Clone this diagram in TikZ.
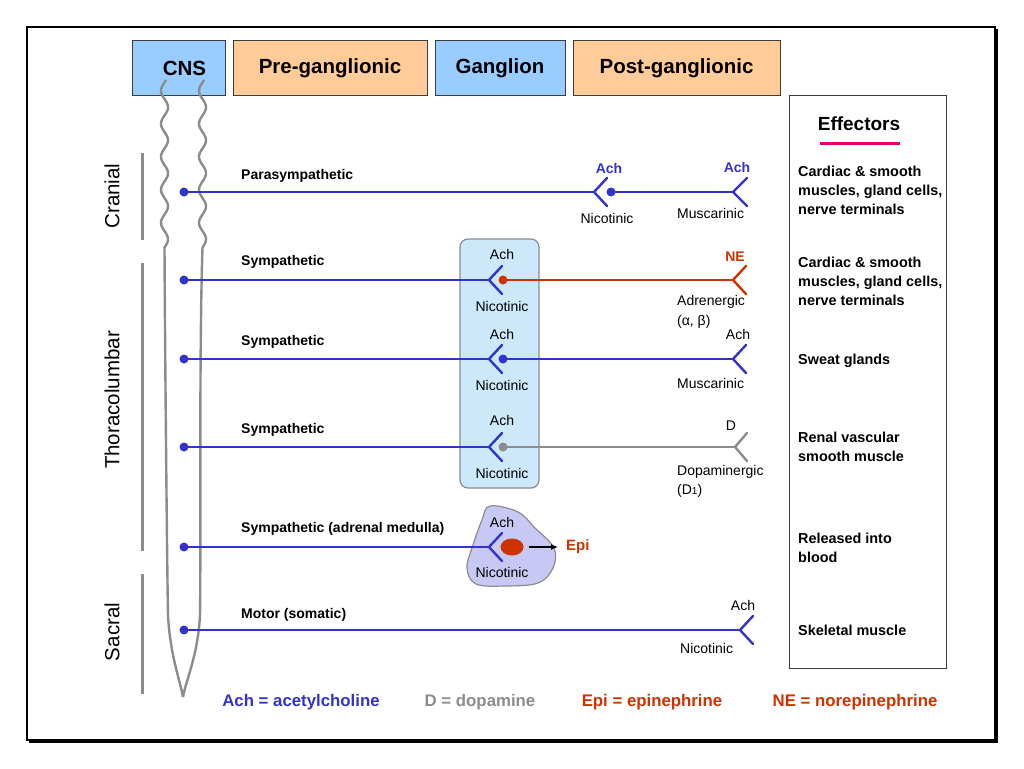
\documentclass[tikz,border=0pt]{standalone}
\usepackage{fontspec}
\setmainfont{Liberation Sans}
\usetikzlibrary{calc,arrows.meta,shapes.geometric}
\definecolor{nblue}{RGB}{51,51,204}
\definecolor{nred}{RGB}{204,51,0}
\definecolor{ngray}{RGB}{140,140,140}
\definecolor{hblue}{RGB}{153,204,255}
\definecolor{horange}{RGB}{255,204,153}
\definecolor{gbox}{RGB}{204,232,250}
\definecolor{gboxb}{RGB}{130,140,150}
\definecolor{blobc}{RGB}{200,200,245}
\definecolor{ulpink}{RGB}{230,0,110}
\definecolor{hdrb}{RGB}{60,60,60}
\newcommand\fsz[2]{\fontsize{#1}{#2}\selectfont}
\newcommand\forkat[3]{\draw[#2,line width=2.4pt,line cap=round] ($(#1)+(#3,-14)$) -- (#1) -- ($(#1)+(#3,14)$);}
\begin{document}
\begin{tikzpicture}[x=1pt,y=-1pt,
  hdr/.style={draw=hdrb, line width=1pt, minimum height=54pt, inner sep=0pt, font=\fsz{20.5}{23}\bfseries},
  rowlab/.style={anchor=west, inner sep=0pt, font=\fsz{14}{16}\bfseries},
  lab/.style={inner sep=0pt, font=\fsz{14}{16}},
  blab/.style={inner sep=0pt, font=\fsz{14}{16}\bfseries},
  efftxt/.style={anchor=west, align=left, inner sep=0pt, font=\fsz{14.4}{19}\bfseries},
  leg/.style={inner sep=0pt, font=\fsz{16.8}{18}\bfseries},
  vlab/.style={rotate=90, inner sep=0pt, font=\fsz{20.5}{22}},
  nerve/.style={line width=2.4pt},
  cord/.style={draw=ngray, line width=2.4pt},
  brk/.style={draw=ngray, line width=3pt}]
\useasboundingbox (0,0) rectangle (1024,768);
\fill[white] (0,0) rectangle (1024,768);
% frame
\draw[line width=1.5pt] (27,27) rectangle (995,740);
\draw[line width=2.5pt] (996.5,29) -- (996.5,741.5) -- (29,741.5);

% header
\node[hdr, fill=hblue, minimum width=93pt] (cns) at (178.5,68) {\hspace{12pt}CNS};
\node[hdr, fill=horange, minimum width=194pt] (pre) at (330,68) {Pre-ganglionic};
\node[hdr, fill=hblue, minimum width=130pt] (gan) at (500,68) {Ganglion};
\node[hdr, fill=horange, minimum width=207pt] (post) at (676.5,68) {Post-ganglionic};

% spinal cord
\draw[cord] plot[domain=80:247.5, samples=120, smooth] ({164.5+3.5*sin(\x*10.909)}, \x)
  .. controls (165,350) and (167,560) .. (168,615) .. controls (170,655) and (180,680) .. (183,697);
\draw[cord] plot[domain=80:247.5, samples=120, smooth] ({202.5+3.5*sin(\x*10.909)}, \x)
  .. controls (199,350) and (201,560) .. (200,615) .. controls (198,655) and (186,680) .. (183,697);

% region brackets
\draw[brk] (142,153) -- (142,240);
\draw[brk] (142,263) -- (142,551);
\draw[brk] (142,574) -- (142,694);
\node[vlab] (cran) at (112,196) {Cranial};
\node[vlab] (thor) at (112,400) {Thoracolumbar};
\node[vlab] (sacr) at (112,632) {Sacral};

% effectors box
\node[draw=hdrb, line width=1pt, minimum width=157pt, minimum height=573pt, inner sep=0pt] (eff) at (867.5,381.5) {};
\node[inner sep=0pt, font=\fsz{19}{21}\bfseries] (efft) at (859,124) {Effectors};
\draw[ulpink, line width=3pt] (820,143) -- (900,143);
\node[efftxt] (e1) at (798,190) {Cardiac \& smooth\\muscles, gland cells,\\nerve terminals};
\node[efftxt] (e2) at (798,281) {Cardiac \& smooth\\muscles, gland cells,\\nerve terminals};
\node[efftxt] (e3) at (798,361) {Sweat glands};
\node[efftxt] (e4) at (798,446.5) {Renal vascular\\smooth muscle};
\node[efftxt] (e5) at (798,548) {Released into\\blood};
\node[efftxt] (e6) at (798,630) {Skeletal muscle};

% ganglion box and adrenal cell
\node[draw=gboxb, fill=gbox, rounded corners=8pt, line width=1.2pt, minimum width=79pt, minimum height=249pt, inner sep=0pt] (gbox) at (499.5,363.5) {};
\draw[fill=blobc, draw=ngray, line width=1.2pt] plot[smooth cycle, tension=0.6] coordinates {(490,506) (518,512) (535,528) (554,548) (553,568) (538,583) (505,586) (476,584) (467,568) (473,545) (482,520)};

% coordinates
\coordinate (s1) at (184,192); \coordinate (g1) at (594,192); \coordinate (d1) at (611,192); \coordinate (t1) at (733,192);
\coordinate (s2) at (184,280); \coordinate (g2) at (489,280); \coordinate (d2) at (503,280); \coordinate (t2) at (733,280);
\coordinate (s3) at (184,359); \coordinate (g3) at (489,359); \coordinate (d3) at (503,359); \coordinate (t3) at (733,359);
\coordinate (s4) at (184,447); \coordinate (g4) at (489,447); \coordinate (d4) at (503,447); \coordinate (t4) at (735,447);
\coordinate (s5) at (184,547); \coordinate (g5) at (489,547);
\coordinate (s6) at (184,630); \coordinate (t6) at (740,630);

% row 1 parasympathetic
\draw[nerve, nblue] (s1) -- (g1);
\draw[nerve, nblue] (d1) -- (t1);
\forkat{g1}{nblue}{13}
\forkat{t1}{nblue}{14}
\fill[nblue] (s1) circle (4.5pt);
\fill[nblue] (d1) circle (4.5pt);
\node[rowlab] (r1) at (241,176) {Parasympathetic};
\node[blab, text=nblue] (a1) at (609,168) {Ach};
\node[blab, text=nblue] (a1b) at (737,167) {Ach};
\node[lab] (n1) at (607,218) {Nicotinic};
\node[lab, anchor=west] (m1) at (677,213) {Muscarinic};

% row 2 sympathetic NE
\draw[nerve, nblue] (s2) -- (g2);
\draw[nerve, nred] (d2) -- (t2);
\forkat{g2}{nblue}{13}
\forkat{t2}{nred}{13}
\fill[nblue] (s2) circle (4.5pt);
\fill[nred] (d2) circle (4.5pt);
\node[rowlab] (r2) at (241,262) {Sympathetic};
\node[lab] (a2) at (502,254) {Ach};
\node[lab] (n2) at (502,306) {Nicotinic};
\node[blab, text=nred] (ne2) at (735,257) {NE};
\node[lab, anchor=west] (m2) at (677,302) {Adrenergic};
\node[lab, anchor=west] (m2b) at (677,322) {(α, β)};

% row 3 sympathetic sweat
\draw[nerve, nblue] (s3) -- (g3);
\draw[nerve, nblue] (d3) -- (t3);
\forkat{g3}{nblue}{13}
\forkat{t3}{nblue}{13}
\fill[nblue] (s3) circle (4.5pt);
\fill[nblue] (d3) circle (4.5pt);
\node[rowlab] (r3) at (241,342) {Sympathetic};
\node[lab] (a3) at (502,334) {Ach};
\node[lab] (n3) at (502,385) {Nicotinic};
\node[lab] (a3b) at (738,334) {Ach};
\node[lab, anchor=west] (m3) at (677,383) {Muscarinic};

% row 4 sympathetic dopamine
\draw[nerve, nblue] (s4) -- (g4);
\draw[nerve, ngray] (d4) -- (t4);
\forkat{g4}{nblue}{13}
\forkat{t4}{ngray}{12}
\fill[nblue] (s4) circle (4.5pt);
\fill[ngray] (d4) circle (4.5pt);
\node[rowlab] (r4) at (241,430) {Sympathetic};
\node[lab] (a4) at (502,420) {Ach};
\node[lab] (n4) at (502,473) {Nicotinic};
\node[lab] (dd4) at (731,426) {D};
\node[lab, anchor=west] (m4) at (677,472) {Dopaminergic};
\node[lab, anchor=west] (m4b) at (677,491) {(D{\fsz{10}{12}1})};

% row 5 adrenal medulla
\draw[nerve, nblue] (s5) -- (g5);
\forkat{g5}{nblue}{13}
\fill[nblue] (s5) circle (4.5pt);
\node[ellipse, fill=nred, minimum width=23pt, minimum height=17pt, inner sep=0pt] (cell) at (512,547) {};
\node[inner sep=0pt, anchor=west, text=nred, font=\fsz{15}{17}\bfseries] (epi) at (566,547) {Epi};
\draw[-{Latex[length=7pt,width=6pt]}, line width=1.3pt, shorten >=8pt] ([xshift=5pt]cell.east) -- (epi.west);
\node[rowlab] (r5) at (241,529) {Sympathetic (adrenal medulla)};
\node[lab] (a5) at (502,522) {Ach};
\node[lab] (n5) at (502,572) {Nicotinic};

% row 6 motor
\draw[nerve, nblue] (s6) -- (t6);
\forkat{t6}{nblue}{13}
\fill[nblue] (s6) circle (4.5pt);
\node[rowlab] (r6) at (241,615) {Motor (somatic)};
\node[lab] (a6) at (743,605) {Ach};
\node[lab, anchor=west] (n6) at (680,648) {Nicotinic};

% legend
\node[leg, text=nblue] (l1) at (301,702) {Ach = acetylcholine};
\node[leg, text=ngray] (l2) at (480,702) {D = dopamine};
\node[leg, text=nred] (l3) at (652,702) {Epi = epinephrine};
\node[leg, text=nred] (l4) at (855,702) {NE = norepinephrine};
\end{tikzpicture}
\end{document}
